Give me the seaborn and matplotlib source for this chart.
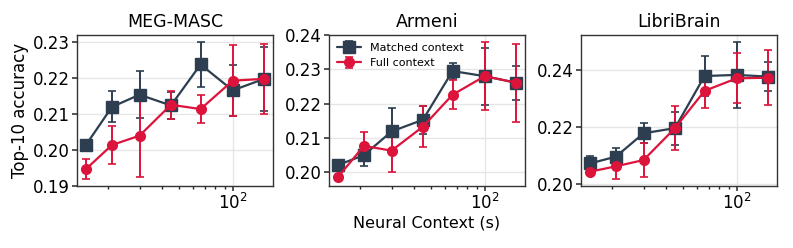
import numpy as np
import matplotlib
matplotlib.use("Agg")
import matplotlib.pyplot as plt
from matplotlib.ticker import LogLocator, NullFormatter
import seaborn as sns

# Neural context lengths (s)
context = [15, 21, 30, 45, 66, 100, 150]

datasets = ["MEG-MASC", "Armeni", "LibriBrain"]

# MEG-MASC
masc_matched = [0.2014, 0.2120, 0.2154, 0.2124, 0.2238, 0.2166, 0.2198]
masc_matched_err = [0.0008, 0.0043, 0.0066, 0.0038, 0.0063, 0.0070, 0.0090]
masc_full = [0.1947, 0.2014, 0.2040, 0.2126, 0.2114, 0.2193, 0.2198]
masc_full_err = [0.0027, 0.0054, 0.0114, 0.0039, 0.0038, 0.0098, 0.0097]

# Armeni
armeni_matched = [0.2021, 0.2050, 0.2119, 0.2153, 0.2295, 0.2280, 0.2261]
armeni_matched_err = [0.0005, 0.0033, 0.0067, 0.0040, 0.0023, 0.0083, 0.0050]
armeni_full = [0.1986, 0.2077, 0.2063, 0.2133, 0.2226, 0.2280, 0.2261]
armeni_full_err = [0.0006, 0.0040, 0.0063, 0.0060, 0.0043, 0.0099, 0.0114]

# LibriBrain
libri_matched = [0.2072, 0.2096, 0.2178, 0.2196, 0.2379, 0.2383, 0.2377]
libri_matched_err = [0.0027, 0.0030, 0.0035, 0.0058, 0.0070, 0.0116, 0.0050]
libri_full = [0.2043, 0.2062, 0.2084, 0.2196, 0.2327, 0.2371, 0.2373]
libri_full_err = [0.0008, 0.0045, 0.0060, 0.0078, 0.0060, 0.0088, 0.0097]

results = {
    "MEG-MASC": (masc_matched, masc_matched_err, masc_full, masc_full_err),
    "Armeni": (armeni_matched, armeni_matched_err, armeni_full, armeni_full_err),
    "LibriBrain": (libri_matched, libri_matched_err, libri_full, libri_full_err),
}

yticks = {
    "MEG-MASC": [0.19, 0.20, 0.21, 0.22, 0.23],
    "Armeni": [0.20, 0.21, 0.22, 0.23, 0.24],
    "LibriBrain": [0.20, 0.22, 0.24],
}

sns.set_theme(style="whitegrid")
plt.rcParams.update({
    "font.family": ["DejaVu Sans"],
    "axes.edgecolor": "0.2",
    "axes.linewidth": 1.0,
    "text.color": "black",
    "axes.labelcolor": "black",
    "xtick.color": "black",
    "ytick.color": "black",
    "xtick.bottom": True,
    "ytick.left": True,
    "xtick.direction": "out",
    "ytick.direction": "out",
})

dark = "#2c3e50"
red = "#dc143c"

fig = plt.figure(figsize=(7.93, 2.48), dpi=100)
lefts = [77, 329, 581]

for i, name in enumerate(datasets):
    ax = fig.add_axes([lefts[i] / 793, 62 / 248, 196 / 793, 151 / 248])
    m, me, f, fe = results[name]
    ax.errorbar(context, m, yerr=me, color=dark, marker="s", markersize=8,
                linewidth=1.6, capsize=3, elinewidth=1.4, capthick=1.2,
                label="Matched context")
    ax.errorbar(context, f, yerr=fe, color=red, marker="o", markersize=7,
                linewidth=1.6, capsize=3, elinewidth=1.4, capthick=1.2,
                label="Full context")
    ax.set_xscale("log")
    ax.xaxis.set_major_locator(LogLocator(base=10))
    ax.xaxis.set_minor_locator(LogLocator(base=10, subs=np.arange(2, 10), numticks=30))
    ax.xaxis.set_minor_formatter(NullFormatter())
    ax.set_yticks(yticks[name])
    ax.set_yticklabels([f"{v:.2f}" for v in yticks[name]])
    ax.tick_params(axis="x", which="major", bottom=True, length=3.5, width=1.1,
                   color="0.15")
    ax.tick_params(axis="x", which="minor", bottom=True, length=2.3, width=1.0,
                   color="0.15")
    ax.tick_params(axis="y", which="major", left=True, length=3.5, width=1.1,
                   color="0.15")
    ax.tick_params(axis="both", which="major", labelsize=12, pad=1.5)
    ax.grid(True, which="major", color="0.9", linewidth=1)
    ax.grid(False, which="minor")
    ax.set_facecolor("white")
    ax.set_title(name, fontsize=12.5, pad=6)
    if i == 0:
        ax.set_ylabel("Top-10 accuracy", fontsize=12, labelpad=3)
    if i == 1:
        ax.set_xlabel("Neural Context (s)", fontsize=11.5, labelpad=2)
        ax.legend(loc="upper left", frameon=False, fontsize=8,
                  handlelength=2.2, borderaxespad=0.3)

fig.savefig("out.png", dpi=100)
